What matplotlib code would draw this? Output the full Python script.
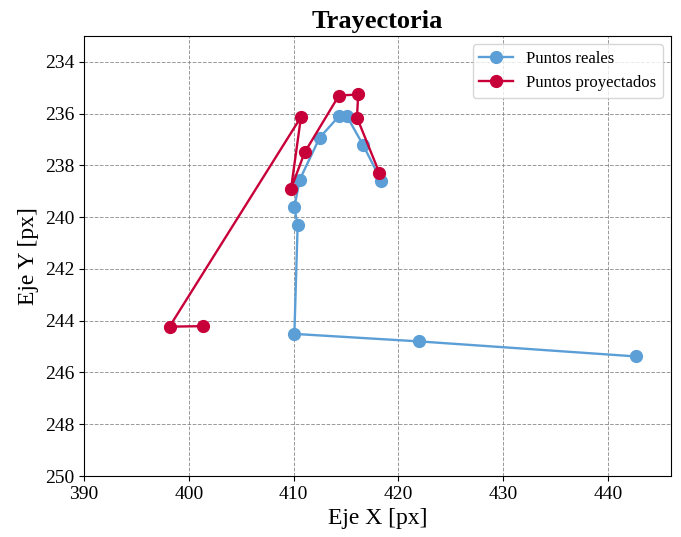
import matplotlib.pyplot as plt

plt.rcParams['font.family'] = ['Liberation Serif', 'DejaVu Serif']

# Puntos reales (trayectoria observada)
real_x = [442.64, 422.0, 410.07, 410.38, 410.07, 410.57, 412.48, 414.32, 415.08, 416.61, 418.38]
real_y = [245.38, 244.80, 244.51, 240.32, 239.62, 238.56, 236.93, 236.10, 236.10, 237.20, 238.61]

# Puntos proyectados
proj_x = [401.33, 398.16, 410.70, 409.75, 411.05, 414.32, 416.16, 416.04, 418.19]
proj_y = [244.21, 244.23, 236.13, 238.90, 237.50, 235.30, 235.26, 236.15, 238.30]

fig = plt.figure(figsize=(6.81, 5.37), dpi=100)
ax = fig.add_axes([84 / 681, 1 - 476 / 537, (671 - 84) / 681, (476 - 36) / 537])

ax.plot(real_x, real_y, marker='o', color='#5B9FD6', linewidth=1.7, markersize=8.5, label='Puntos reales')
ax.plot(proj_x, proj_y, marker='o', color='#C8003A', linewidth=1.7, markersize=8.5, label='Puntos proyectados')

ax.set_xlim(390, 446)
ax.set_ylim(250, 233)
ax.set_yticks(range(234, 251, 2))

ax.set_title('Trayectoria', fontsize=19, fontweight='bold')
ax.set_xlabel('Eje X [px]', fontsize=17)
ax.set_ylabel('Eje Y [px]', fontsize=17)
ax.tick_params(labelsize=14)
ax.grid(True, linestyle='--', color='gray', linewidth=0.7, alpha=0.8)
ax.legend(loc='upper right', fontsize=12)

fig.savefig('out.png', dpi=100)
